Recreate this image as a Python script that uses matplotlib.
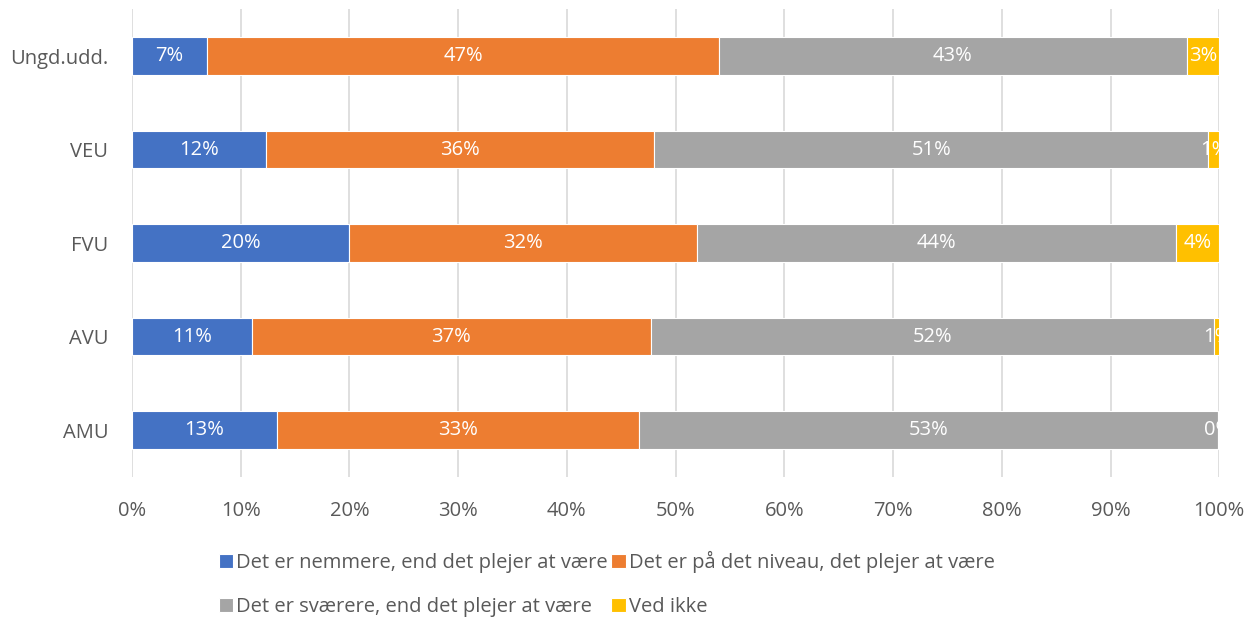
import matplotlib
matplotlib.use("Agg")
import matplotlib.pyplot as plt
import numpy as np

plt.rcParams['font.family'] = ['Open Sans', 'DejaVu Sans']

categories = ["Ungd.udd.", "VEU", "FVU", "AVU", "AMU"]
series_names = [
    "Det er nemmere, end det plejer at være",
    "Det er på det niveau, det plejer at være",
    "Det er sværere, end det plejer at være",
    "Ved ikke",
]
nemmere = [6.9, 12.3, 20.0, 11.0, 13.3]
niveau = [47.1, 35.7, 32.0, 36.7, 33.3]
svaerere = [43.0, 51.0, 44.0, 51.8, 53.3]
ved_ikke = [3.0, 1.0, 4.0, 0.6, 0.0]
colors = ["#4472C4", "#ED7D31", "#A5A5A5", "#FFC000"]

fig = plt.figure(figsize=(12.57, 6.17), dpi=100)
ax = fig.add_axes([0.105, 0.227, 0.865, 0.758])

y = np.arange(len(categories))
left = np.zeros(len(categories))
for vals, name, col in zip([nemmere, niveau, svaerere, ved_ikke], series_names, colors):
    vals = np.array(vals)
    ax.barh(y, vals, left=left, height=0.4, color=col, edgecolor="white",
            linewidth=0.8, label=name, zorder=3)
    for yi, l, v in zip(y, left, vals):
        ax.text(l + v / 2, yi, f"{round(v):.0f}%", ha="center", va="center",
                color="white", fontsize=14.5, zorder=4)
    left += vals

ax.set_xlim(0, 100)
ax.set_ylim(len(categories) - 0.5, -0.5)
ax.set_yticks(y)
ax.set_yticklabels(categories)
ax.set_xticks(np.arange(0, 101, 10))
ax.set_xticklabels([f"{t}%" for t in range(0, 101, 10)])
ax.tick_params(length=0, labelsize=14.5, labelcolor="#595959")
ax.tick_params(axis="x", pad=17)
ax.tick_params(axis="y", pad=17)
ax.grid(axis="x", color="#D9D9D9", linewidth=1.2, zorder=0)
for s in ax.spines.values():
    s.set_visible(False)

handles, labels = ax.get_legend_handles_labels()
order = [0, 2, 1, 3]
fig.legend([handles[i] for i in order], [labels[i] for i in order],
           loc="upper left", bbox_to_anchor=(0.174, 0.107), ncol=2,
           frameon=False, fontsize=14.5, handlelength=0.7, handleheight=0.7,
           handletextpad=0.15, columnspacing=0.2, labelspacing=1.2,
           borderaxespad=0, borderpad=0, labelcolor="#595959")

fig.savefig("out.png", dpi=100)
